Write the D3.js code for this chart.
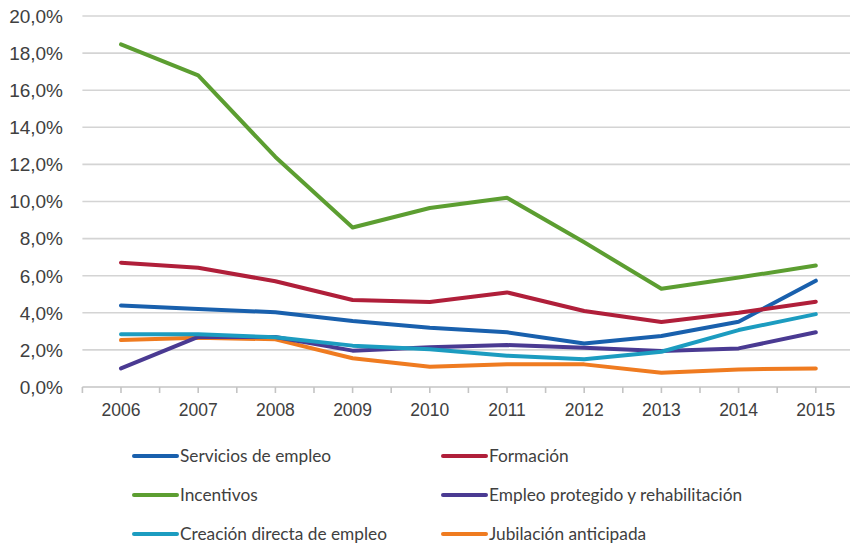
<!DOCTYPE html>
<html>
<head>
<meta charset="utf-8">
<script src="https://cdn.jsdelivr.net/npm/d3@7"></script>
<style>
  body { margin: 0; background: #fff; }
  svg { display: block; }
</style>
</head>
<body>
<div class="chart"></div>
<script>
const years = ["2006","2007","2008","2009","2010","2011","2012","2013","2014","2015"]

const servicios = [4.4, 4.2, 4.03, 3.56, 3.2, 2.95, 2.35, 2.75, 3.52, 5.73]
const formacion = [6.7, 6.43, 5.7, 4.69, 4.58, 5.1, 4.1, 3.5, 4.0, 4.6]
const incentivos = [18.47, 16.8, 12.4, 8.6, 9.65, 10.2, 7.8, 5.3, 5.9, 6.55]
const protegido = [1.0, 2.7, 2.7, 1.96, 2.14, 2.26, 2.12, 1.94, 2.08, 2.95]
const creacion = [2.84, 2.84, 2.68, 2.23, 2.03, 1.69, 1.5, 1.9, 3.07, 3.93]
const jubilacion = [2.53, 2.66, 2.57, 1.55, 1.09, 1.22, 1.22, 0.77, 0.95, 1.0]

const yTicks = [0, 2, 4, 6, 8, 10, 12, 14, 16, 18, 20]

const series = [
  { name: "Servicios de empleo", values: servicios, color: "#1960ad" },
  { name: "Formación", values: formacion, color: "#b01f3a" },
  { name: "Incentivos", values: incentivos, color: "#5c9e31" },
  { name: "Empleo protegido y rehabilitación", values: protegido, color: "#4a3a92" },
  { name: "Creación directa de empleo", values: creacion, color: "#1c9cc0" },
  { name: "Jubilación anticipada", values: jubilacion, color: "#ef7b20" }
]

// order in which the lines are painted (bottom first)
const drawOrder = [5, 3, 4, 0, 1, 2]

const width = 850
const height = 544

const locale = d3.formatLocale({ decimal: ",", thousands: ".", grouping: [3], currency: ["", "€"] })
const fmt = v => locale.format(".1f")(v) + "%"

let svg = d3.select(".chart")
  .append("svg")
  .attr("width", width)
  .attr("height", height)

let x = d3.scaleBand()
  .domain(years)
  .range([82.4, 854.4])
  .padding(0)

let y = d3.scaleLinear()
  .domain([0, 20])
  .range([387, 16])

// gridlines
svg.append("g")
  .selectAll("line")
  .data(yTicks.filter(d => d > 0))
  .enter()
  .append("line")
  .attr("x1", x.range()[0])
  .attr("x2", width)
  .attr("y1", d => y(d))
  .attr("y2", d => y(d))
  .style("stroke", "#d4d4d4")
  .style("stroke-width", 1.6)

// y labels
svg.append("g")
  .selectAll("text")
  .data(yTicks)
  .enter()
  .append("text")
  .attr("x", 63)
  .attr("y", d => y(d))
  .attr("dy", "0.36em")
  .attr("text-anchor", "end")
  .style("font-family", "'Liberation Sans', Arial, sans-serif")
  .style("font-size", "19px")
  .style("fill", "#404040")
  .text(fmt)

// x axis: baseline and ticks every half band
let bw = x.bandwidth()
let tickPos = []
years.forEach(d => { tickPos.push(x(d)); tickPos.push(x(d) + bw / 2) })

let xAxis = svg.append("g")

xAxis.append("line")
  .attr("x1", x.range()[0])
  .attr("x2", width)
  .attr("y1", y(0))
  .attr("y2", y(0))
  .style("stroke", "#c4c4c4")
  .style("stroke-width", 1.6)

xAxis.selectAll(".tick")
  .data(tickPos)
  .enter()
  .append("line")
  .attr("class", "tick")
  .attr("x1", d => d)
  .attr("x2", d => d)
  .attr("y1", y(0))
  .attr("y2", y(0) + 6)
  .style("stroke", "#c4c4c4")
  .style("stroke-width", 1.6)

xAxis.selectAll("text")
  .data(years)
  .enter()
  .append("text")
  .attr("x", d => x(d) + bw / 2)
  .attr("y", 416)
  .attr("text-anchor", "middle")
  .style("font-family", "'Liberation Sans', Arial, sans-serif")
  .style("font-size", "17.5px")
  .style("fill", "#404040")
  .text(d => d)

// lines
let line = d3.line()
  .x((d, i) => x(years[i]) + bw / 2)
  .y(d => y(d))

svg.append("g")
  .selectAll("path")
  .data(drawOrder.map(i => series[i]))
  .enter()
  .append("path")
  .attr("d", d => line(d.values))
  .style("fill", "none")
  .style("stroke", d => d.color)
  .style("stroke-width", 4)
  .style("stroke-linejoin", "round")
  .style("stroke-linecap", "round")

// legend, two columns, three rows
let legend = svg.append("g")
  .selectAll("g")
  .data(series)
  .enter()
  .append("g")
  .attr("transform", (d, i) => "translate(" + (i % 2 === 0 ? 134 : 443) + "," + (456 + Math.floor(i / 2) * 39) + ")")

legend.append("line")
  .attr("x1", 0)
  .attr("x2", 43)
  .style("stroke", d => d.color)
  .style("stroke-width", 4)
  .style("stroke-linecap", "round")

legend.append("text")
  .attr("x", 46)
  .attr("dy", "0.35em")
  .style("font-family", "Lato, 'Open Sans', sans-serif")
  .style("font-size", "17.3px")
  .style("fill", "#404040")
  .text(d => d.name)
</script>
</body>
</html>
